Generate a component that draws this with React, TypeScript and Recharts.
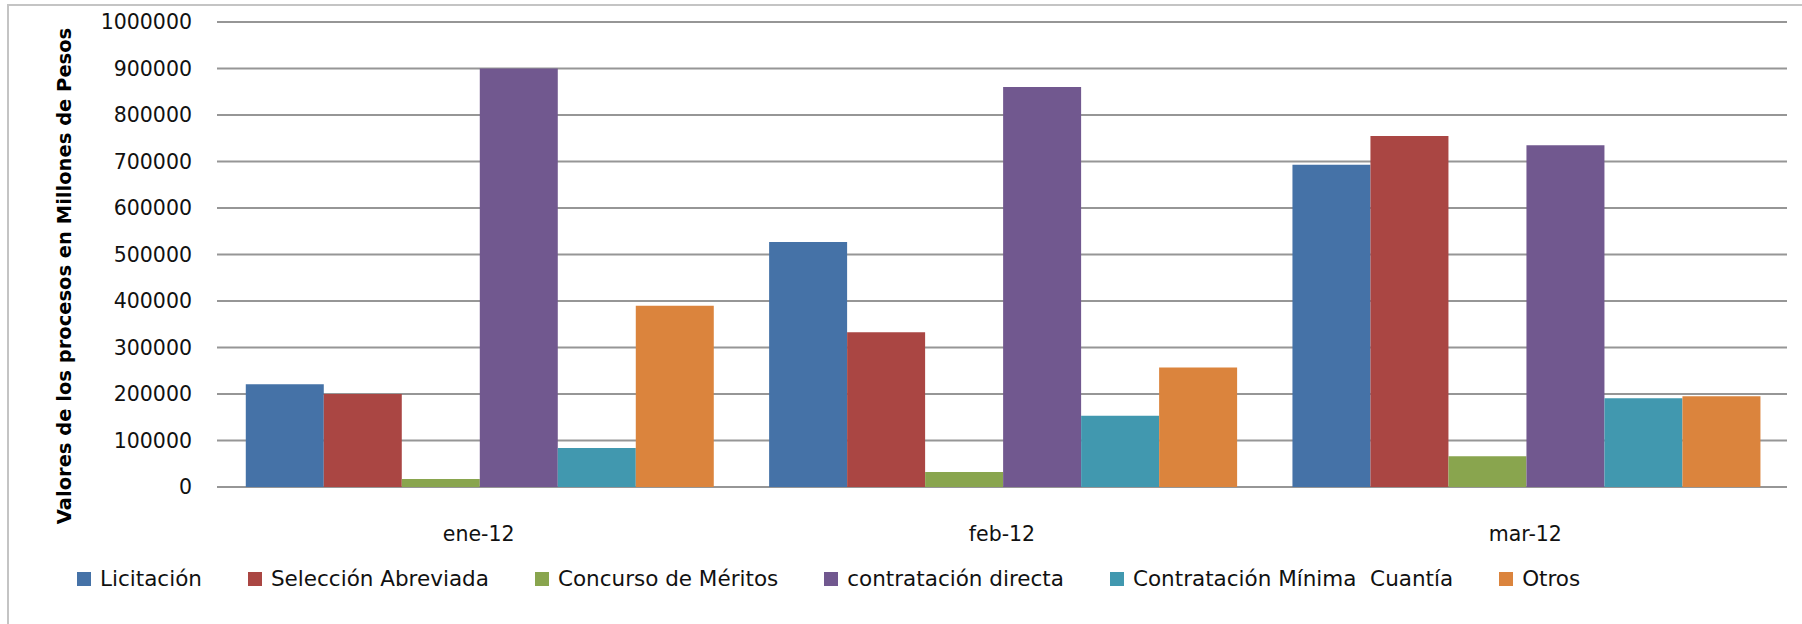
import { BarChart, Bar, XAxis, YAxis, CartesianGrid, Legend } from 'recharts'

const categories = ['ene-12', 'feb-12', 'mar-12']

const licitacion = [221000, 527000, 693000]
const seleccionAbreviada = [200000, 333000, 755000]
const concursoMeritos = [17000, 32000, 66000]
const contratacionDirecta = [900000, 860000, 735000]
const minimaCuantia = [84000, 153000, 191000]
const otros = [390000, 257000, 195000]

const yTicks = [0, 100000, 200000, 300000, 400000, 500000, 600000, 700000, 800000, 900000, 1000000]

const SERIES = [
  { key: 'licitacion', name: 'Licitación', values: licitacion, color: '#4572A7' },
  { key: 'seleccion', name: 'Selección Abreviada', values: seleccionAbreviada, color: '#AA4643' },
  { key: 'concurso', name: 'Concurso de Méritos', values: concursoMeritos, color: '#89A54E' },
  { key: 'directa', name: 'contratación directa', values: contratacionDirecta, color: '#71588F' },
  { key: 'minima', name: 'Contratación Mínima  Cuantía', values: minimaCuantia, color: '#4198AF' },
  { key: 'otros', name: 'Otros', values: otros, color: '#DB843D' },
]

const data = categories.map((month, i) => {
  const row: Record<string, string | number> = { month }
  SERIES.forEach((s) => {
    row[s.key] = s.values[i]
  })
  return row
})

const FONT = '"DejaVu Sans", sans-serif'

function LegendContent() {
  return (
    <div style={{ display: 'flex', alignItems: 'center', gap: 46, fontFamily: FONT, fontSize: 21.5, color: '#111', whiteSpace: 'pre' }}>
      {SERIES.map((s) => (
        <div key={s.key} style={{ display: 'flex', alignItems: 'center' }}>
          <span style={{ display: 'inline-block', width: 14, height: 14, background: s.color, marginRight: 9 }} />
          <span>{s.name}</span>
        </div>
      ))}
    </div>
  )
}

function YLabel() {
  return (
    <text
      transform="translate(71,276) rotate(-90)"
      textAnchor="middle"
      fontFamily={FONT}
      fontWeight="bold"
      fontSize={19.5}
      fill="#000"
    >
      Valores de los procesos en Millones de Pesos
    </text>
  )
}

export default function App() {
  return (
    <div style={{ position: 'absolute', left: 0, top: 0, width: 1802, height: 624, background: '#fff' }}>
      <div
        style={{
          position: 'absolute',
          left: 7,
          top: 4,
          width: 1795,
          height: 620,
          borderTop: '2px solid #c4c4c4',
          borderLeft: '2px solid #c4c4c4',
          boxSizing: 'border-box',
        }}
      />
      <BarChart
        width={1802}
        height={624}
        data={data}
        margin={{ top: 22, right: 15, bottom: 0, left: 0 }}
        barCategoryGap="5.5%"
        barGap={0}
      >
        <CartesianGrid vertical={false} stroke="#969696" strokeWidth={2} />
        <XAxis
          dataKey="month"
          height={137}
          axisLine={false}
          tickLine={false}
          tickSize={0}
          tickMargin={39}
          tick={{ fontFamily: FONT, fontSize: 20.5, fill: '#111' }}
        />
        <YAxis
          width={217}
          domain={[0, 1000000]}
          ticks={yTicks}
          interval={0}
          axisLine={false}
          tickLine={false}
          tickSize={0}
          tickMargin={25}
          tick={{ fontFamily: FONT, fontSize: 20.5, fill: '#111' }}
          label={<YLabel />}
        />
        <Legend
          layout="horizontal"
          verticalAlign="middle"
          align="center"
          content={<LegendContent />}
          wrapperStyle={{ top: 566, left: 77, width: 1700 }}
        />
        {SERIES.map((s) => (
          <Bar key={s.key} dataKey={s.key} name={s.name} fill={s.color} isAnimationActive={false} />
        ))}
      </BarChart>
    </div>
  )
}
